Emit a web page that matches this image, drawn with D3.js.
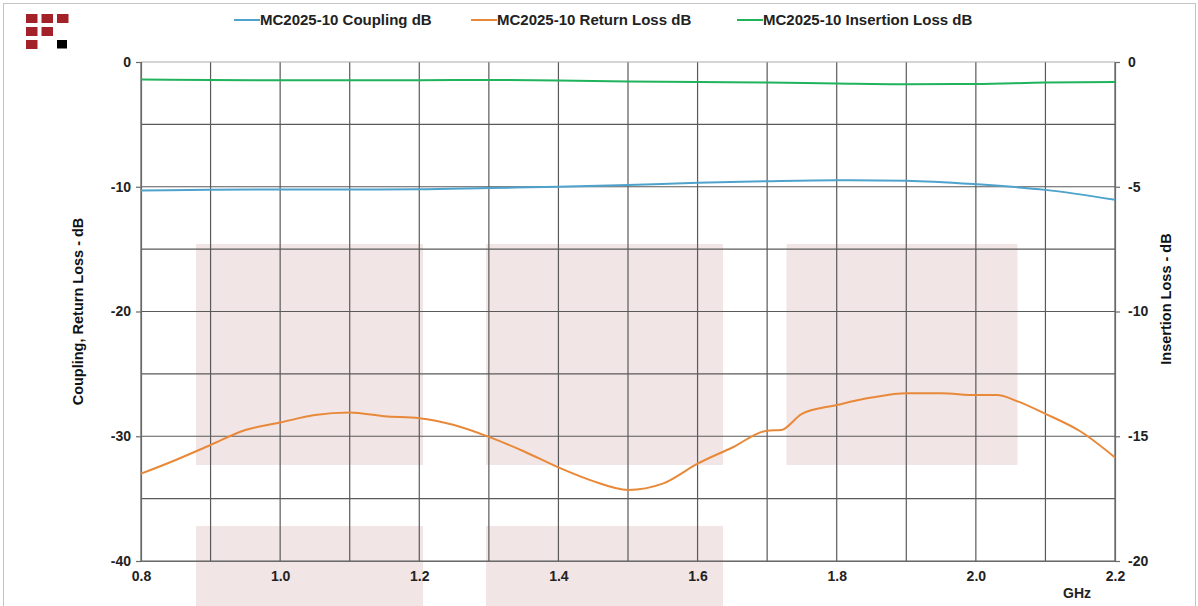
<!DOCTYPE html>
<html>
<head>
<meta charset="utf-8">
<script src="https://cdn.jsdelivr.net/npm/d3@7"></script>
<style>
  html, body { margin: 0; padding: 0; background: #fff; }
  svg { display: block; font-family: "Liberation Sans", Arial, sans-serif; }
</style>
</head>
<body>
<div id="chart"></div>
<script>
// MC2025-10 directional coupler response
const freqCoupling = [0.8, 0.9, 1.0, 1.1, 1.2, 1.3, 1.4, 1.5, 1.6, 1.7, 1.8, 1.9, 2.0, 2.1, 2.2];
const coupling = [-10.3, -10.25, -10.22, -10.22, -10.2, -10.1, -10.0, -9.86, -9.68, -9.55, -9.47, -9.52, -9.8, -10.25, -11.05];

const freqInsertion = [0.8, 0.9, 1.0, 1.1, 1.2, 1.3, 1.4, 1.5, 1.6, 1.7, 1.8, 1.9, 2.0, 2.1, 2.2];
const insertion = [-0.7, -0.72, -0.73, -0.73, -0.73, -0.72, -0.74, -0.78, -0.8, -0.82, -0.86, -0.89, -0.88, -0.82, -0.8];

const freqReturn = [0.8, 0.85, 0.9, 0.95, 1.0, 1.05, 1.1, 1.15, 1.2, 1.25, 1.3, 1.35, 1.4, 1.45, 1.5,
                    1.55, 1.6, 1.65, 1.7, 1.72, 1.75, 1.8, 1.85, 1.9, 1.95, 2.0, 2.03, 2.06, 2.1, 2.15, 2.2];
const returnLoss = [-33.0, -31.9, -30.7, -29.5, -28.9, -28.3, -28.1, -28.4, -28.55, -29.1, -30.05, -31.2, -32.5, -33.6, -34.3,
                    -33.8, -32.2, -30.9, -29.55, -29.5, -28.2, -27.5, -26.9, -26.55, -26.55, -26.7, -26.7, -27.2, -28.2, -29.6, -31.7];

const xTicks = [0.8, 1.0, 1.2, 1.4, 1.6, 1.8, 2.0, 2.2];
const leftTicks = [0, -10, -20, -30, -40];
const rightTicks = [0, -5, -10, -15, -20];

const seriesNames = ['MC2025-10 Coupling dB', 'MC2025-10 Return Loss dB', 'MC2025-10 Insertion Loss dB'];
const seriesColors = ['#4ea3cc', '#e8893a', '#1fb35c'];

const W = 1198, H = 606;
const margin = { top: 62, right: 83, bottom: 45, left: 141 };

const svg = d3.select('#chart').append('svg')
    .attr('width', W)
    .attr('height', H);

// outer frame
svg.append('rect')
    .attr('x', 3.5).attr('y', 3.5)
    .attr('width', W - 6).attr('height', H + 10)
    .attr('fill', 'none')
    .attr('stroke', '#c4c4c4');

// logo, top left
const logoCells = [[0, 0], [1, 0], [2, 0], [0, 1], [1, 1], [0, 2]];
svg.append('g').selectAll('rect')
    .data(logoCells)
    .enter().append('rect')
    .attr('x', d => 26 + d[0] * 15.5)
    .attr('y', d => 14 + d[1] * 13)
    .attr('width', 11.5)
    .attr('height', 9)
    .attr('fill', '#a3222a');
svg.append('rect')
    .attr('x', 57).attr('y', 40)
    .attr('width', 10).attr('height', 8.5)
    .attr('fill', '#000');

const x = d3.scaleLinear().domain([0.8, 2.2]).range([margin.left, W - margin.right]);
const yL = d3.scaleLinear().domain([-40, 0]).range([H - margin.bottom, margin.top]);
const yR = d3.scaleLinear().domain([-20, 0]).range([H - margin.bottom, margin.top]);

// watermark blocks behind the grid
const watermark = [
    [196, 244, 227, 221], [486, 244, 237, 221], [786.5, 244, 231, 221],
    [196, 526, 227, 90], [486, 526, 237, 90]
];
svg.append('g').selectAll('rect')
    .data(watermark)
    .enter().append('rect')
    .attr('x', d => d[0]).attr('y', d => d[1])
    .attr('width', d => d[2]).attr('height', d => d[3])
    .attr('fill', '#f2e5e5');

// grid
const grid = svg.append('g');
grid.selectAll('line.v')
    .data(d3.range(0, 15).map(i => 0.8 + i * 0.1))
    .enter().append('line')
    .attr('x1', d => x(d)).attr('x2', d => x(d))
    .attr('y1', yL(0)).attr('y2', yL(-40))
    .attr('stroke', '#5a5a5a')
    .attr('stroke-width', 1.2);
grid.selectAll('line.h')
    .data(d3.range(0, 9).map(i => -i * 5))
    .enter().append('line')
    .attr('x1', x(0.8)).attr('x2', x(2.2))
    .attr('y1', d => yL(d)).attr('y2', d => yL(d))
    .attr('stroke', d => d === 0 ? '#ababab' : '#5a5a5a')
    .attr('stroke-width', 1.2);

// axes
const axisFont = g => g.selectAll('text')
    .style('font-size', '14px')
    .style('font-weight', 'bold')
    .style('fill', '#222');

const leftAxis = svg.append('g')
    .attr('transform', `translate(${margin.left},0)`)
    .call(d3.axisLeft(yL).tickValues(leftTicks).tickFormat(d3.format('d')).tickSize(5).tickPadding(5))
    .call(axisFont);

const rightAxis = svg.append('g')
    .attr('transform', `translate(${W - margin.right},0)`)
    .call(d3.axisRight(yR).tickValues(rightTicks).tickFormat(d3.format('d')).tickSize(5).tickPadding(8))
    .call(axisFont);

const bottomAxis = svg.append('g')
    .attr('transform', `translate(0,${H - margin.bottom})`)
    .call(d3.axisBottom(x).tickValues(xTicks).tickFormat(d3.format('.1f')).tickSize(0).tickPadding(10))
    .call(axisFont);

[leftAxis, rightAxis, bottomAxis].forEach(g => {
    g.select('.domain').attr('stroke', '#6a6a6a').attr('stroke-width', 1.2);
    g.selectAll('.tick line').attr('stroke', '#6a6a6a').attr('stroke-width', 1.2);
});
// tick labels use a hyphen minus like the original
svg.selectAll('.tick text').text(function() { return this.textContent.replace('\u2212', '-'); });

// axis titles
svg.append('text')
    .attr('transform', `translate(83,${(margin.top + H - margin.bottom) / 2}) rotate(-90)`)
    .attr('text-anchor', 'middle')
    .style('font-size', '14.5px')
    .style('font-weight', 'bold')
    .style('fill', '#111')
    .text('Coupling, Return Loss - dB');

svg.append('text')
    .attr('transform', `translate(1171,299) rotate(-90)`)
    .attr('text-anchor', 'middle')
    .style('font-size', '14.5px')
    .style('font-weight', 'bold')
    .style('fill', '#111')
    .text('Insertion Loss - dB');

svg.append('text')
    .attr('x', 1077).attr('y', 598)
    .attr('text-anchor', 'middle')
    .style('font-size', '14px')
    .style('font-weight', 'bold')
    .style('fill', '#222')
    .text('GHz');

// curves
const lineL = d3.line().x(d => x(d[0])).y(d => yL(d[1])).curve(d3.curveMonotoneX);
const lineR = d3.line().x(d => x(d[0])).y(d => yR(d[1])).curve(d3.curveMonotoneX);

const curves = [
    { data: d3.zip(freqCoupling, coupling), line: lineL, color: seriesColors[0] },
    { data: d3.zip(freqReturn, returnLoss), line: lineL, color: seriesColors[1] },
    { data: d3.zip(freqInsertion, insertion), line: lineR, color: seriesColors[2] }
];

svg.append('g').selectAll('path')
    .data(curves)
    .enter().append('path')
    .attr('d', d => d.line(d.data))
    .attr('fill', 'none')
    .attr('stroke', d => d.color)
    .attr('stroke-width', 2);

// legend
const legendX = [234, 471, 737];
const legend = svg.append('g').selectAll('g')
    .data(seriesNames)
    .enter().append('g')
    .attr('transform', (d, i) => `translate(${legendX[i]},20)`);
legend.append('line')
    .attr('x1', 0).attr('x2', 26)
    .attr('stroke', (d, i) => seriesColors[i])
    .attr('stroke-width', 2);
legend.append('text')
    .attr('x', 26).attr('y', 5)
    .style('font-size', '15px')
    .style('font-weight', 'bold')
    .style('fill', '#222')
    .text(d => d);
</script>
</body>
</html>
